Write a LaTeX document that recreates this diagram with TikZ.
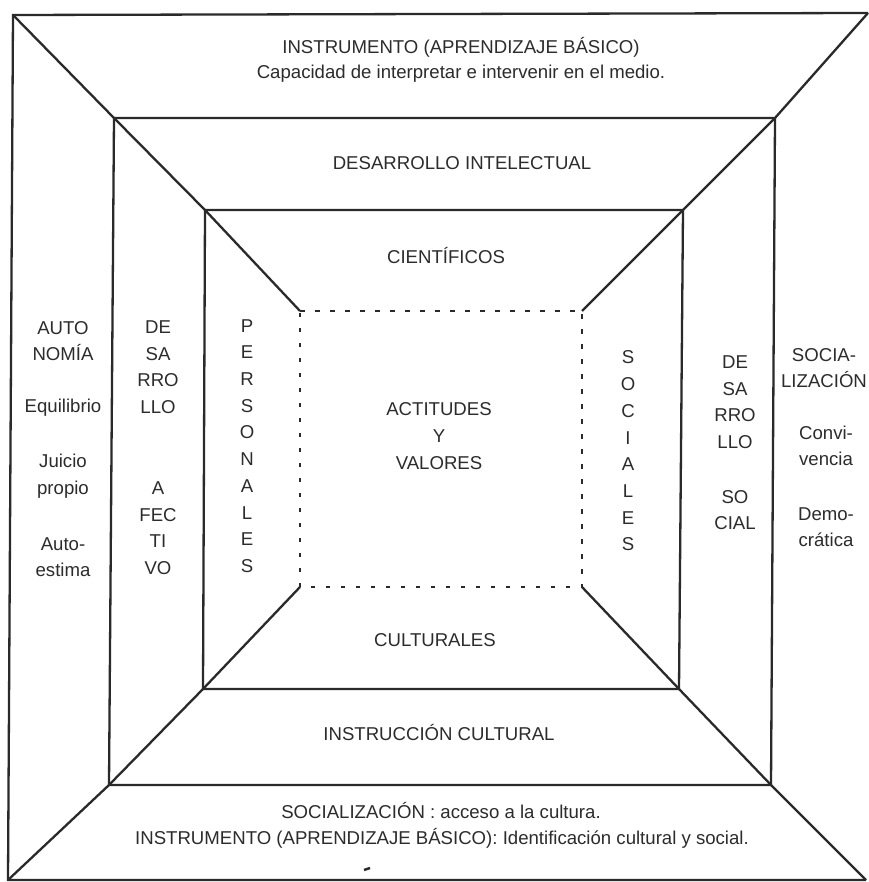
\documentclass[tikz,border=0pt]{standalone}
\usepackage{fontspec}
\setmainfont{Liberation Sans}
\begin{document}
\definecolor{ink}{HTML}{2A2A2A}
\definecolor{txt}{HTML}{2C2C2C}
\begin{tikzpicture}[x=1pt,y=-1pt,
  frame/.style={draw=ink,line width=2.3pt,line join=miter},
  dotline/.style={draw=ink,line width=2.8pt,dash pattern=on 4.5pt off 10.5pt},
  lbl/.style={text=txt,font=\fontsize{18.6}{26.6}\selectfont,align=center,inner sep=0pt},
  vert/.style={lbl,font=\fontsize{18.6}{26.7}\selectfont}]
\useasboundingbox (0,0) rectangle (868,882);
\fill[white] (0,0) rectangle (868,882);

% corners: outer (o), middle (m), inner (i), dotted core (d)
\coordinate (otl) at (13,15);   \coordinate (otr) at (868,13);
\coordinate (obl) at (8,880);   \coordinate (obr) at (866,880);
\coordinate (mtl) at (114,118); \coordinate (mtr) at (775,118);
\coordinate (mbl) at (109,785); \coordinate (mbr) at (771,785);
\coordinate (itl) at (205,210); \coordinate (itr) at (683,210);
\coordinate (ibl) at (203,689); \coordinate (ibr) at (679,689);
\coordinate (dtl) at (300,311); \coordinate (dtr) at (582,311);
\coordinate (dbl) at (300,587); \coordinate (dbr) at (582,587);

% frames
\draw[frame] (otr) -- (otl) -- (obl) -- (obr);
\draw[frame] (mtl) -- (mtr) -- (mbr) -- (mbl) -- cycle;
\draw[frame] (itl) -- (itr) -- (ibr) -- (ibl) -- cycle;
\draw[dotline] (dtl) -- (dtr) -- (dbr) -- (dbl) -- cycle;

% diagonals from the outer corners to the core
\draw[frame] (otl) -- (mtl) -- (itl) -- (dtl);
\draw[frame] (otr) -- (mtr) -- (itr) -- (dtr);
\draw[frame] (obl) -- (mbl) -- (ibl) -- (dbl);
\draw[frame] (obr) -- (mbr) -- (ibr) -- (dbr);

% top band
\node[lbl] (top1) at (461,47) {INSTRUMENTO (APRENDIZAJE BÁSICO)};
\node[lbl] (top2) at (461,74) {Capacidad de interpretar e intervenir en el medio.};
\node[lbl] (intel) at (462,163) {DESARROLLO INTELECTUAL};
\node[lbl] (cient) at (446,256) {CIENTÍFICOS};

% core
\node[lbl] (core) at (439,436) {ACTITUDES\\Y\\VALORES};

% bottom band
\node[lbl] (cult) at (435,640) {CULTURALES};
\node[lbl] (instr) at (439,733) {INSTRUCCIÓN CULTURAL};
\node[lbl] (bot1) at (441,811) {SOCIALIZACIÓN : acceso a la cultura.};
\node[lbl] (bot2) at (442,838) {INSTRUMENTO (APRENDIZAJE BÁSICO): Identificación cultural y social.};
\draw[ink,line width=2.4pt] (364,870) -- (370,868);

% left columns
\node[lbl] (auto) at (63,341) {AUTO\\NOMÍA};
\node[lbl] (equi) at (63,408) {Equilibrio};
\node[lbl] (juic) at (63,476) {Juicio\\propio};
\node[lbl] (este) at (63,557) {Auto-\\estima};
\node[lbl] (desa) at (158,367) {DE\\SA\\RRO\\LLO};
\node[lbl] (afec) at (158,528) {A\\FEC\\TI\\VO};
\node[vert] (pers) at (247,446) {P\\E\\R\\S\\O\\N\\A\\L\\E\\S};

% right columns
\node[vert] (soci) at (628,451) {S\\O\\C\\I\\A\\L\\E\\S};
\node[lbl] (desb) at (735,402) {DE\\SA\\RRO\\LLO};
\node[lbl] (socl) at (735,510) {SO\\CIAL};
\node[lbl] (sczn) at (824,368) {SOCIA-\\LIZACIÓN};
\node[lbl] (conv) at (826,446) {Convi-\\vencia};
\node[lbl] (demo) at (826,527) {Demo-\\crática};
\end{tikzpicture}
\end{document}
